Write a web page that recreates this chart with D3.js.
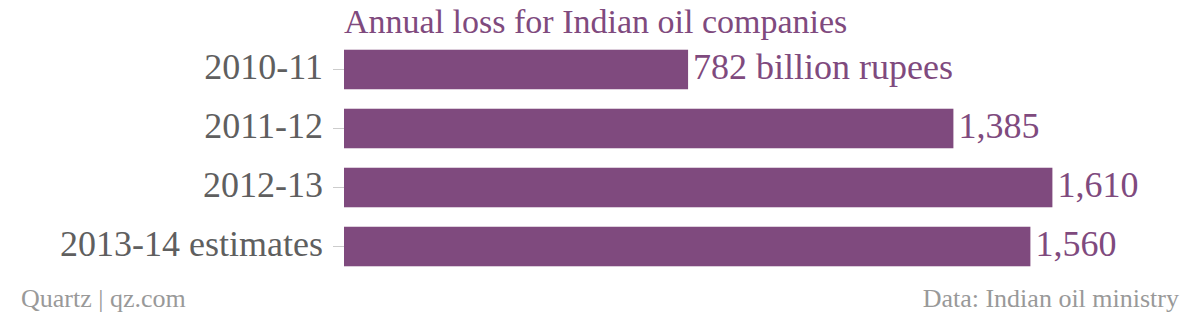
<!DOCTYPE html>
<html>
<head>
<meta charset="utf-8">
<script src="https://cdn.jsdelivr.net/npm/d3@7"></script>
<style>
  body { margin: 0; background: #fff; }
  svg text { font-family: "Liberation Serif", "DejaVu Serif", serif; }
</style>
</head>
<body>
<div class="canvas"></div>
<script>
const years = ['2010-11', '2011-12', '2012-13', '2013-14 estimates']
const losses = [782, 1385, 1610, 1560]
const valueLabels = ['782 billion rupees', '1,385', '1,610', '1,560']

const dimensions = { width: 1200, height: 316 }
const margin = { top: 45, right: 110, bottom: 45, left: 344 }

const svg = d3.select('.canvas')
    .append('svg')
    .attr('width', dimensions.width)
    .attr('height', dimensions.height)

const graphWidth = dimensions.width - margin.left - margin.right
const graphHeight = dimensions.height - margin.top - margin.bottom

const graph = svg.append('g')
    .attr('transform', `translate(${margin.left}, ${margin.top})`)

const data = years.map((d, i) => ({ year: d, value: losses[i], label: valueLabels[i] }))

// 0.44 px per billion rupees, as in the picture
const x = d3.scaleLinear()
    .domain([0, graphWidth / 0.44])
    .range([0, graphWidth])

const y = d3.scaleBand()
    .domain(years)
    .range([0, graphHeight])
    .paddingInner(0.33)
    .paddingOuter(0.08)

const purple = '#7f4a7e'

// y axis
const yAxis = d3.axisLeft(y).tickSize(11).tickPadding(10)
const yAxisGroup = graph.append('g').call(yAxis)
yAxisGroup.select('.domain').remove()
yAxisGroup.selectAll('line').attr('stroke', '#ccc')
yAxisGroup.selectAll('text')
    .attr('fill', '#5f5f5f')
    .attr('dy', '0.27em')
    .style('font-size', '36px')

graph.selectAll('rect')
    .data(data)
    .enter()
    .append('rect')
    .attr('x', 0)
    .attr('y', d => y(d.year))
    .attr('width', d => x(d.value))
    .attr('height', y.bandwidth())
    .attr('fill', purple)

graph.selectAll('.value')
    .data(data)
    .enter()
    .append('text')
    .attr('class', 'value')
    .attr('x', d => x(d.value) + 5)
    .attr('y', d => y(d.year) + y.bandwidth() / 2)
    .attr('dy', '0.27em')
    .attr('fill', purple)
    .style('font-size', '36px')
    .text(d => d.label)

// title
svg.append('text')
    .attr('x', margin.left)
    .attr('y', 33)
    .attr('fill', purple)
    .style('font-size', '34px')
    .text('Annual loss for Indian oil companies')

// footer
svg.append('text')
    .attr('x', 21)
    .attr('y', 307)
    .attr('fill', '#999')
    .style('font-size', '26px')
    .text('Quartz | qz.com')

svg.append('text')
    .attr('x', 1179)
    .attr('y', 307)
    .attr('text-anchor', 'end')
    .attr('fill', '#999')
    .style('font-size', '26px')
    .text('Data: Indian oil ministry')
</script>
</body>
</html>
